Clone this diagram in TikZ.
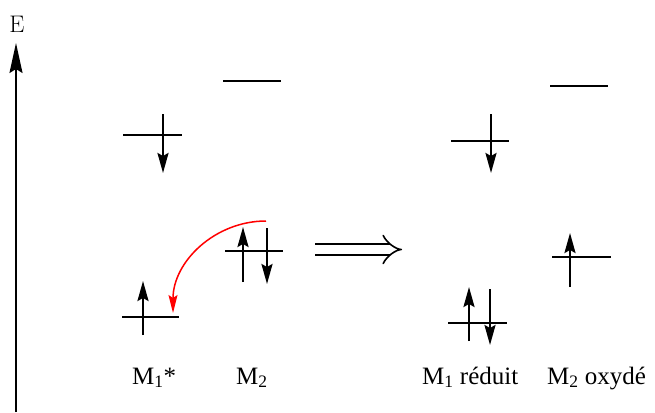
\documentclass[tikz,border=0pt]{standalone}
\usepackage{fontspec}
\newfontfamily\timesfont{Liberation Serif}
\usetikzlibrary{arrows.meta}

\begin{document}
\begin{tikzpicture}[
  x=1pt, y=-1pt,
  level/.style={line width=1.7pt},
  spin/.style={line width=2.2pt, -{Stealth[length=20pt,width=11pt,inset=3pt]}},
  axis/.style={line width=1.8pt, -{Stealth[length=30pt,width=13pt,inset=4pt]}},
  transfer/.style={red, line width=1.5pt, -{Stealth[length=18pt,width=9pt,inset=3pt]}},
  implies/.style={double, double distance=9pt, line width=1.6pt, -{Implies}},
  molname/.style={anchor=base west, inner sep=0pt, font=\timesfont\fontsize{25}{28}\selectfont}
]
\useasboundingbox (0,0) rectangle (655,412);

% energy axis
\draw[axis] (16,412) -- (16,43);
\node[font=\fontsize{24}{26}\selectfont] (E) at (17,24) {E};

% M1* : excited state
\draw[level] (123,135) -- (182,135);
\draw[spin] (163,114) -- (163,173);
\draw[level] (122,317) -- (179,317);
\draw[spin] (143,335) -- (143,281);

% M2
\draw[level] (223,81) -- (281,81);
\draw[level] (225,251) -- (283,251);
\draw[spin] (243,282) -- (243,227);
\draw[spin] (267,228) -- (267,284);

% electron transfer
\coordinate (from) at (266,221);
\coordinate (to) at (173,313);
\draw[transfer] (from) to[out=180, in=90] (to);

% reaction
\coordinate (left) at (315,249.5);
\coordinate (right) at (402,249.5);
\draw[implies] (left) -- (right);

% M1 reduit
\draw[level] (451,141) -- (509,141);
\draw[spin] (491,114) -- (491,173);
\draw[level] (448,323) -- (507,323);
\draw[spin] (469,341) -- (469,287);
\draw[spin] (490,289) -- (490,345);

% M2 oxyde
\draw[level] (550,86) -- (608,86);
\draw[level] (552,257) -- (611,257);
\draw[spin] (570,287) -- (570,233);

% names
\node[molname] (m1star) at (132,384) {M\textsubscript{1}*};
\node[molname] (m2) at (236,384) {M\textsubscript{2}};
\node[molname] (m1red) at (422,384) {M\textsubscript{1} réduit};
\node[molname] (m2ox) at (547,384) {M\textsubscript{2} oxydé};
\end{tikzpicture}
\end{document}
